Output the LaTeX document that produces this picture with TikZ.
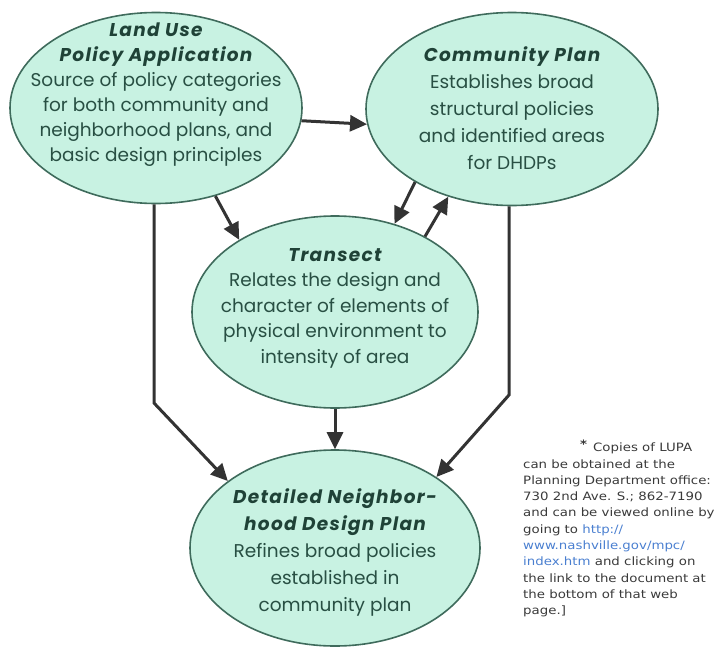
\documentclass[tikz,border=0pt]{standalone}
\usepackage{fontspec}
\setmainfont{Poppins}
\newfontfamily\fn[FakeStretch=1.16]{DejaVu Sans}
\usetikzlibrary{shapes.geometric,arrows.meta}
\definecolor{mint}{HTML}{C8F2E2}
\definecolor{rim}{HTML}{3F6B5C}
\definecolor{ink}{HTML}{284F43}
\definecolor{head}{HTML}{1F4237}
\definecolor{arr}{HTML}{333333}
\definecolor{url}{HTML}{4A7FD0}
\definecolor{note}{HTML}{3A3A3A}
\tikzset{
  oval/.style={ellipse, draw=rim, fill=mint, line width=1.6pt, inner sep=0pt},
  txt/.style={align=center, text=ink, font=\fontsize{18.5}{25}\selectfont},
  conn/.style={draw=arr, line width=3pt, -{Triangle[length=17pt,width=16pt]}},
}
\newcommand{\ttl}[1]{{\bfseries\itshape\addfontfeature{LetterSpace=7}\color{head}#1}}
\begin{document}
\begin{tikzpicture}[x=1pt,y=-1pt]
\useasboundingbox (0,0) rectangle (725,648);
\node[oval, minimum width=292pt, minimum height=191pt] (lu) at (156,108) {};
\node[oval, minimum width=292pt, minimum height=193pt] (cp) at (512,109) {};
\node[oval, minimum width=286pt, minimum height=192pt] (tr) at (335,312) {};
\node[oval, minimum width=290pt, minimum height=196pt] (dn) at (335,548) {};

\node[txt] (lut) at (156,95) {\ttl{Land Use}\\\ttl{Policy Application}\\Source of policy categories\\for both community and\\neighborhood plans, and\\basic design principles};
\node[txt, font=\fontsize{18.5}{27}\selectfont] (cpt) at (512,108) {\ttl{Community Plan}\\Establishes broad\\structural policies\\and identified areas\\for DHDPs};
\node[txt, font=\fontsize{18.5}{25.5}\selectfont] (trt) at (335,308) {\ttl{Transect}\\Relates the design and\\character of elements of\\physical environment to\\intensity of area};
\node[txt, font=\fontsize{18.5}{27}\selectfont] (dnt) at (335,552) {\ttl{Detailed Neighbor-}\\\ttl{hood Design Plan}\\Refines broad policies\\established in\\community plan};

\coordinate (b1) at (154,403);
\coordinate (b2) at (509,395);

\draw[conn] (lu.-5.5) -- (cp.-174.9);
\draw[conn] (lu.-56.7) -- (tr.143.2);
\draw[conn] (cp.-143.2) -- (tr.56.3);
\draw[conn] (tr.40) -- (cp.-126.4);
\draw[conn] (lu.south -| b1) -- (b1) -- (dn.148.7);
\draw[conn] (cp.south -| b2) -- (b2) -- (dn.35.4);
\draw[conn] (tr.south) -- (dn.north);

\node[anchor=north west, align=left, text=note, inner sep=0pt,
      font=\fn\fontsize{11.5}{16.3}\selectfont] (fnote) at (523,440)
  {\hspace*{57pt}{\bfseries\raisebox{3pt}{*}}\hspace{6pt}Copies of LUPA\\
   can be obtained at the\\
   Planning Department office:\\
   730 2nd Ave. S.; 862-7190\\
   and can be viewed online by\\
   going to {\color{url}http://}\\
   {\color{url}www.nashville.gov/mpc/}\\
   {\color{url}index.htm} and clicking on\\
   the link to the document at\\
   the bottom of that web\\
   page.]};
\end{tikzpicture}
\end{document}
